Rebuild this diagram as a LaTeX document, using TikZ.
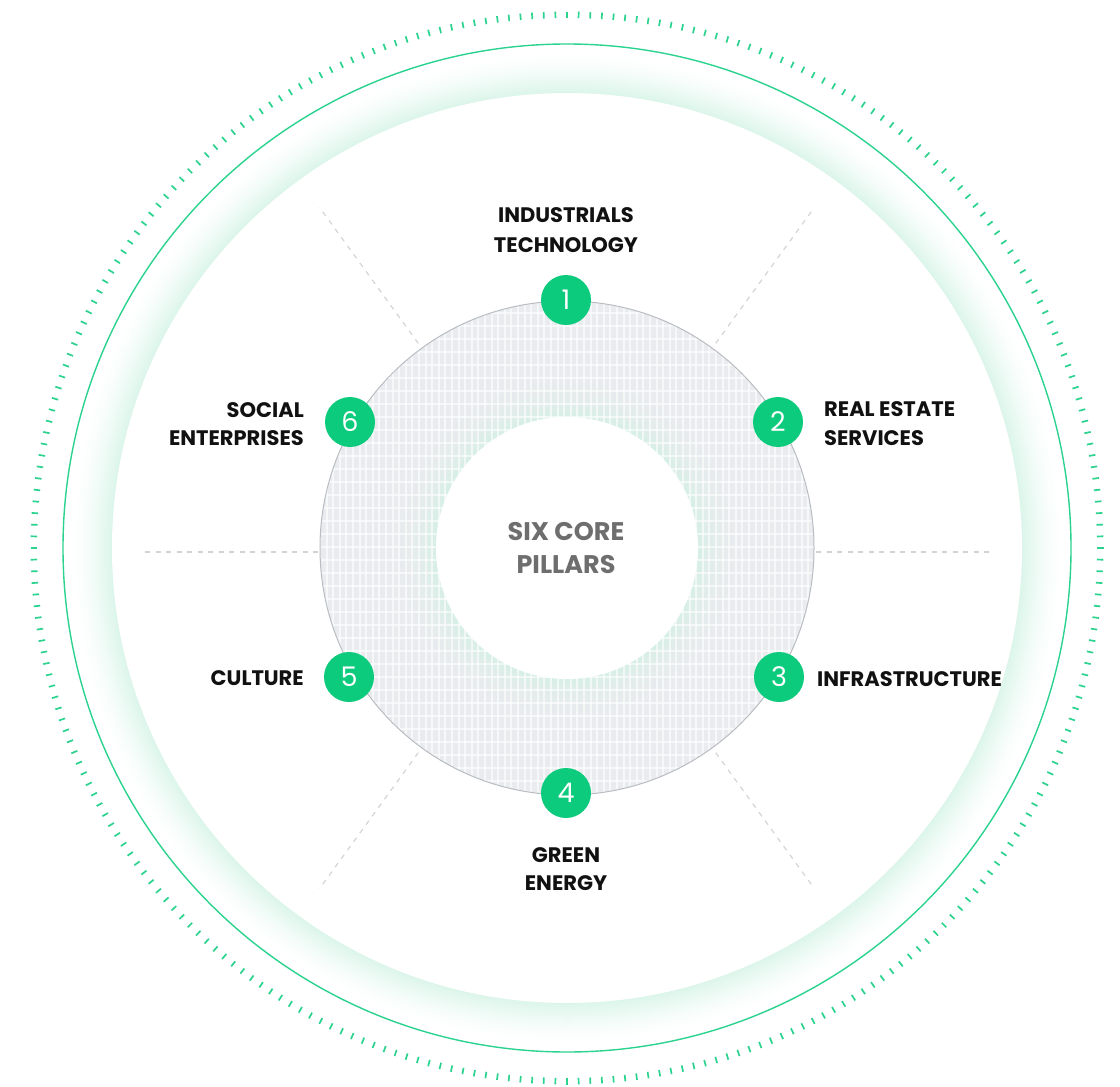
\documentclass[tikz,border=0pt]{standalone}
\usepackage{fontspec}
\setmainfont{Poppins}
\definecolor{pgreen}{HTML}{0DCB7D}
\definecolor{ringgreen}{HTML}{2BD38F}
\definecolor{mint}{HTML}{DBF5EA}
\definecolor{mintin}{HTML}{D6EFE5}
\definecolor{diskfill}{HTML}{E9EBEE}
\definecolor{diskedge}{HTML}{B9BDC2}
\definecolor{dashgray}{HTML}{D2D2D2}
\definecolor{labeltext}{HTML}{111111}
\definecolor{coretext}{HTML}{6E6E6E}
\begin{document}
\begin{tikzpicture}[x=1pt,y=-1pt,
 numc/.style={circle, fill=pgreen, minimum size=50, inner sep=0pt, text=white, font=\fontsize{27}{27}\selectfont},
 lbl/.style={text=labeltext, font=\fontsize{21}{24}\selectfont\bfseries, inner sep=0pt},
 coretxt/.style={text=coretext, font=\fontsize{25.5}{28}\selectfont\bfseries, inner sep=0pt},
 guide/.style={draw=dashgray, line width=1.1pt, dash pattern=on 5pt off 5.5pt},
 tickmark/.style={draw=ringgreen, line width=1.7pt}]
\useasboundingbox (0,0) rectangle (1120,1087);
\fill[white] (0,0) rectangle (1120,1087);
\coordinate (c) at (567,548);
% outer glow band: solid discs from outside in
\foreach \i in {0,...,42} {
  \pgfmathsetmacro\p{100*(\i/42)^1.6}
  \fill[mint!\p!white] (c) circle (497-\i);
}
\fill[white] (c) circle (455);
% solid ring
\draw[ringgreen, line width=1.4pt] (c) circle (504);
% tick ring
\foreach \a in {0,1.25,...,358.75} \draw[tickmark] (c) ++(\a:530) -- ++(\a:6.5);
% dashed guides
\foreach \a in {54,126,234,306} \draw[guide] (c) ++(\a:253) -- ++(\a:168);
\coordinate (hl1) at (145,552);
\coordinate (hl2) at (318,552);
\coordinate (hr1) at (816,552);
\coordinate (hr2) at (990,552);
\draw[guide] (hl1) -- (hl2);
\draw[guide] (hr1) -- (hr2);
% gray disk
\begin{scope}
\clip (c) circle (247);
\fill[diskfill] (c) circle (247);
\foreach \i in {0,...,44} {
  \pgfmathsetmacro\p{100*(\i/44)^2.2}
  \fill[mintin!\p!diskfill] (c) circle (175-\i);
}
\foreach \x in {320,326.6,...,815} \draw[white, opacity=0.6, line width=2pt] (\x,290) -- (\x,800);
\foreach \y in {300,313,...,795} \draw[white, opacity=0.6, line width=2pt] (300,\y) -- (830,\y);
\end{scope}
\draw[diskedge, line width=1pt] (c) circle (247);
\fill[white] (c) circle (131);
% center text
\node[coretxt, anchor=base] (core1) at (566,540) {SIX CORE};
\node[coretxt, anchor=base] (core2) at (566,573) {PILLARS};
% number circles
\node[numc] (n1) at (566,300) {1};
\node[numc] (n2) at (778,422) {2};
\node[numc] (n3) at (779,677) {3};
\node[numc] (n4) at (566,793) {4};
\node[numc] (n5) at (349,677) {5};
\node[numc] (n6) at (350,422) {6};
% labels
\node[lbl, anchor=base] (l1a) at (566,222) {INDUSTRIALS};
\node[lbl, anchor=base] (l1b) at (566,252) {TECHNOLOGY};
\node[lbl, anchor=base west] (l2a) at (824,416) {REAL ESTATE};
\node[lbl, anchor=base west] (l2b) at (824,445) {SERVICES};
\node[lbl, anchor=base west] (l3) at (817,686) {INFRASTRUCTURE};
\node[lbl, anchor=base] (l4a) at (566,862) {GREEN};
\node[lbl, anchor=base] (l4b) at (566,890) {ENERGY};
\node[lbl, anchor=base east] (l5) at (304,685) {CULTURE};
\node[lbl, anchor=base east] (l6a) at (304,417) {SOCIAL};
\node[lbl, anchor=base east] (l6b) at (304,445) {ENTERPRISES};
\end{tikzpicture}
\end{document}
